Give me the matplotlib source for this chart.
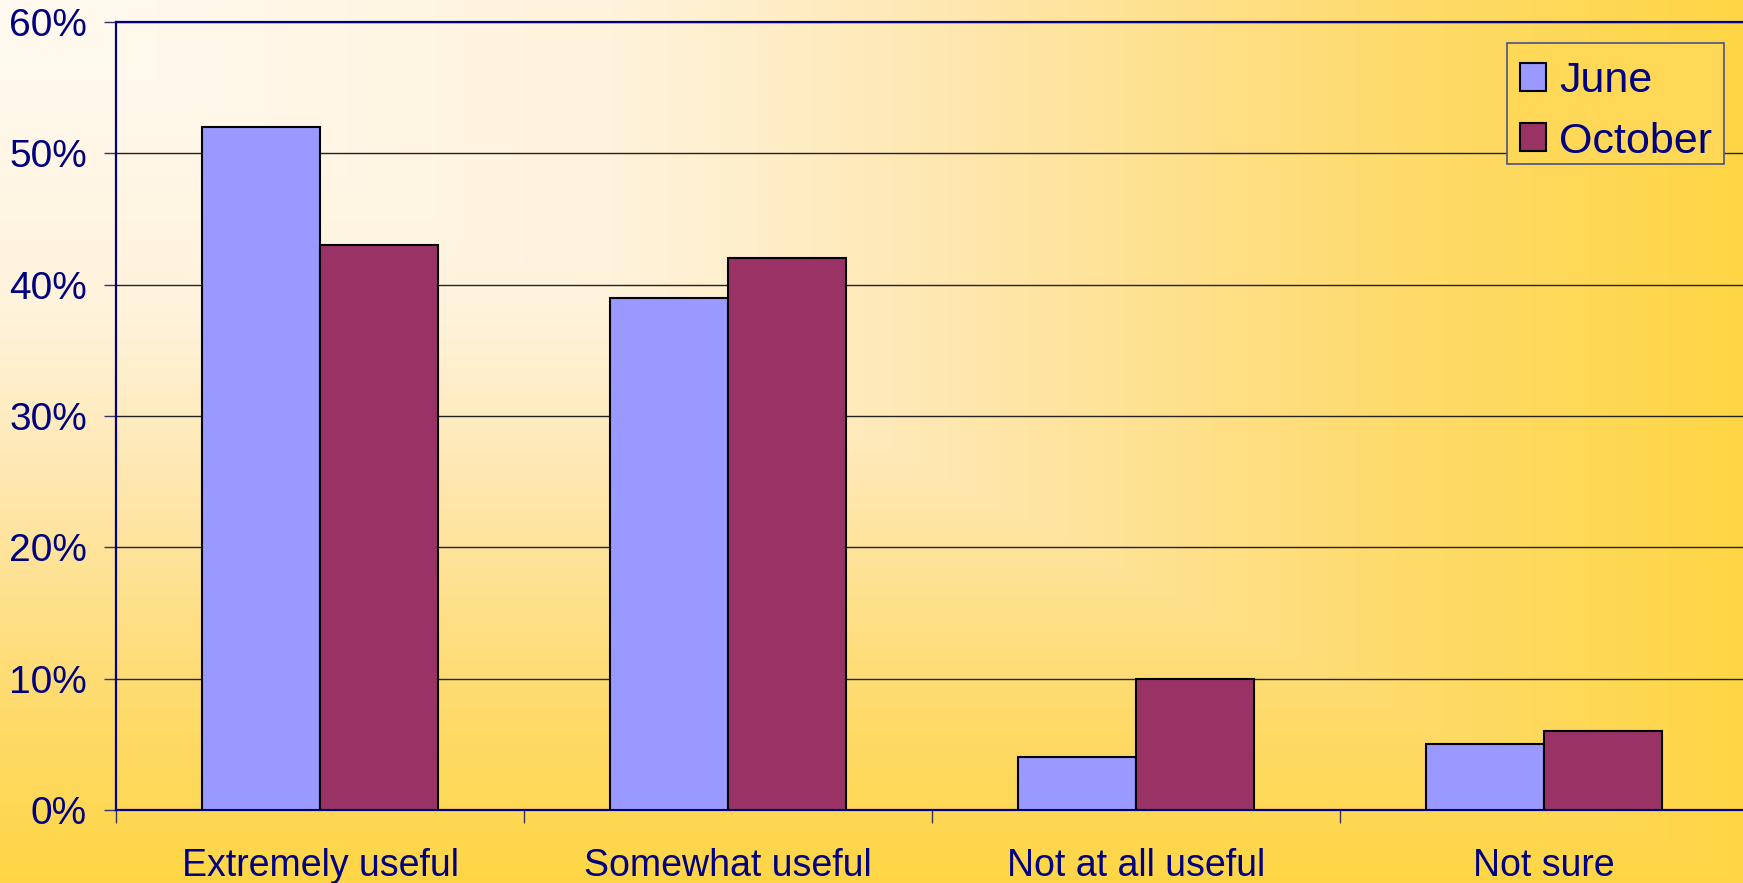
import numpy as np
import matplotlib
matplotlib.use("Agg")
import matplotlib.pyplot as plt
from matplotlib.colors import LinearSegmentedColormap
from matplotlib.patches import Rectangle
from matplotlib.ticker import FixedLocator, PercentFormatter

plt.rcParams["font.family"] = ["Liberation Sans", "DejaVu Sans"]

categories = ["Extremely useful", "Somewhat useful", "Not at all useful", "Not sure"]
june = [52, 39, 4, 5]
october = [43, 42, 10, 6]
series_names = ["June", "October"]
y_ticks = [0, 10, 20, 30, 40, 50, 60]

NAVY = "#000080"
W, H = 1743, 883

fig = plt.figure(figsize=(W / 100, H / 100), dpi=100)

# background: corner gradient, cream top-left -> gold
bg = fig.add_axes([0, 0, 1, 1], zorder=-10)
yy, xx = np.mgrid[0:H, 0:W]
t = np.maximum(xx / W, yy / H)
cmap = LinearSegmentedColormap.from_list(
    "bg", [(0.0, "#FFFAF0"), (0.35, "#FFF3DC"), (0.55, "#FEE7AE"),
           (0.8, "#FEDB6C"), (1.0, "#FED645")])
bg.imshow(t, cmap=cmap, aspect="auto", vmin=0, vmax=1)
bg.axis("off")

ax = fig.add_axes([116 / W, 73 / H, 1632 / W, 788 / H])
ax.set_facecolor("none")

x = np.arange(len(categories))
bw = 0.288
ax.bar(x - bw / 2, june, bw, color="#9999FF", edgecolor="black", linewidth=1.5,
       label=series_names[0], zorder=3)
ax.bar(x + bw / 2, october, bw, color="#993366", edgecolor="black", linewidth=1.5,
       label=series_names[1], zorder=3)

ax.set_xlim(-0.5, len(categories) - 0.5)
ax.set_ylim(0, 60)
ax.set_yticks(y_ticks)
ax.yaxis.set_major_formatter(PercentFormatter(decimals=0))
ax.grid(axis="y", color="#222222", linewidth=1, zorder=0)

ax.xaxis.set_major_locator(FixedLocator(np.arange(-0.5, len(categories), 1.0)))
ax.xaxis.set_minor_locator(FixedLocator(x))
ax.set_xticklabels([], minor=False)
ax.set_xticklabels(categories, minor=True)
ax.tick_params(axis="x", which="major", direction="out", length=9, width=1, color="#333366")
ax.tick_params(axis="x", which="minor", length=0, pad=27, labelsize=27, labelcolor=NAVY)
ax.tick_params(axis="y", direction="out", length=9, width=1, color="#333366",
               pad=12, labelsize=28, labelcolor=NAVY)

for side in ["left", "bottom", "top"]:
    ax.spines[side].set_color(NAVY)
    ax.spines[side].set_linewidth(1.6)
ax.spines["right"].set_visible(False)

# legend entries without frame, box drawn separately (opaque, hides gridline)
leg = ax.legend(loc="upper left", bbox_to_anchor=(0.860, 0.9506), fontsize=31,
                frameon=False, handlelength=0.62, handleheight=0.62,
                handletextpad=0.3, borderpad=0, labelspacing=0.48, borderaxespad=0)
leg.set_zorder(6)
for txt in leg.get_texts():
    txt.set_color(NAVY)
ax.add_patch(Rectangle((0.8523, 0.8198), 0.133, 0.1536, transform=ax.transAxes,
                       facecolor="#FED856", edgecolor="#505080", linewidth=1.2,
                       clip_on=False, zorder=4))

fig.savefig("out.png", dpi=100)
